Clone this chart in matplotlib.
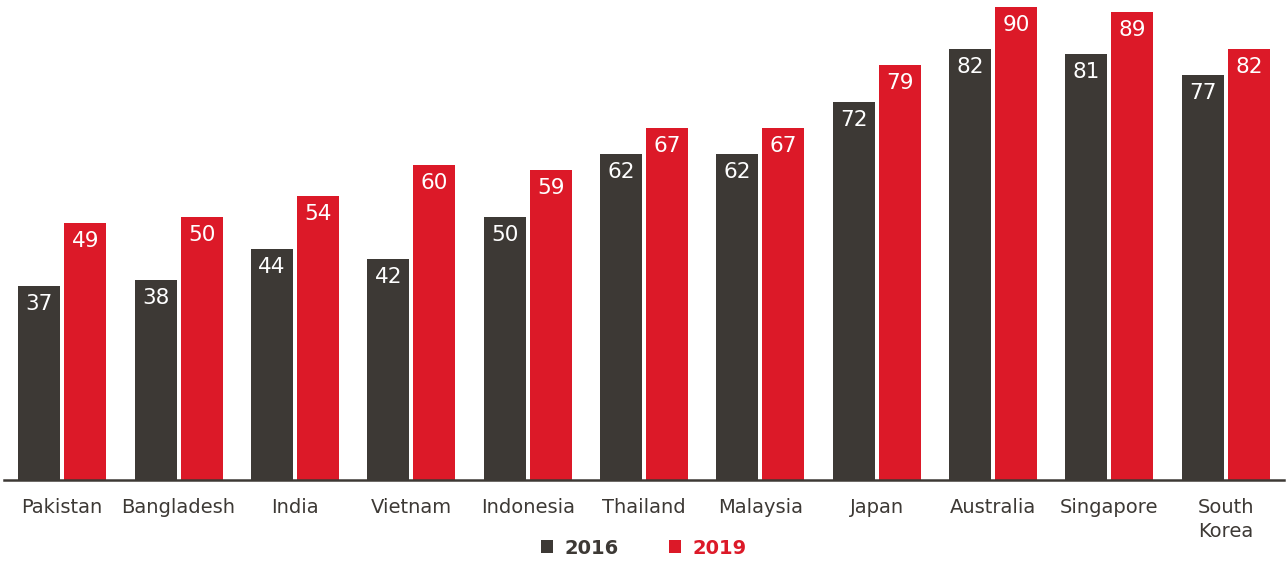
import matplotlib.pyplot as plt
import numpy as np

countries = ['Pakistan', 'Bangladesh', 'India', 'Vietnam', 'Indonesia', 'Thailand',
             'Malaysia', 'Japan', 'Australia', 'Singapore', 'South\nKorea']
vals_2016 = [37, 38, 44, 42, 50, 62, 62, 72, 82, 81, 77]
vals_2019 = [49, 50, 54, 60, 59, 67, 67, 79, 90, 89, 82]
years = ['2016', '2019']

dark = '#3d3935'
red = '#dc1928'

fig = plt.figure(figsize=(12.87, 5.62), dpi=100)
ax = fig.add_axes([4/1287, 82/562, 1280/1287, 475/562])

x = np.arange(len(countries))
w = 0.361
off = 0.198
b1 = ax.bar(x - off, vals_2016, w, color=dark, label=years[0])
b2 = ax.bar(x + off, vals_2019, w, color=red, label=years[1])

# valores dentro de las barras
for bars in (b1, b2):
    for r in bars:
        ax.annotate(f'{int(r.get_height())}', (r.get_x() + r.get_width()/2, r.get_height()),
                    xytext=(0, -18), textcoords='offset pixels', ha='center', va='center',
                    color='white', fontsize=15.5)

ax.set_xlim(-0.5, 10.5)
ax.set_ylim(0, 90.4)
for s in ['top', 'right', 'left']:
    ax.spines[s].set_visible(False)
ax.spines['bottom'].set_color(dark)
ax.spines['bottom'].set_linewidth(1.8)
ax.set_yticks([])
ax.set_xticks(x)
ax.set_xticklabels(countries, fontsize=14, color=dark, linespacing=1.3)
ax.tick_params(axis='x', length=0, pad=13)

leg = fig.legend(handles=[b1, b2], loc='center', bbox_to_anchor=(0.5, 14/562),
                 ncol=2, frameon=False, handlelength=0.65, handleheight=0.65,
                 handletextpad=0.55, columnspacing=2.6, prop={'weight': 'bold', 'size': 14})
for t, c in zip(leg.get_texts(), [dark, red]):
    t.set_color(c)

plt.savefig('out.png')
plt.close()
